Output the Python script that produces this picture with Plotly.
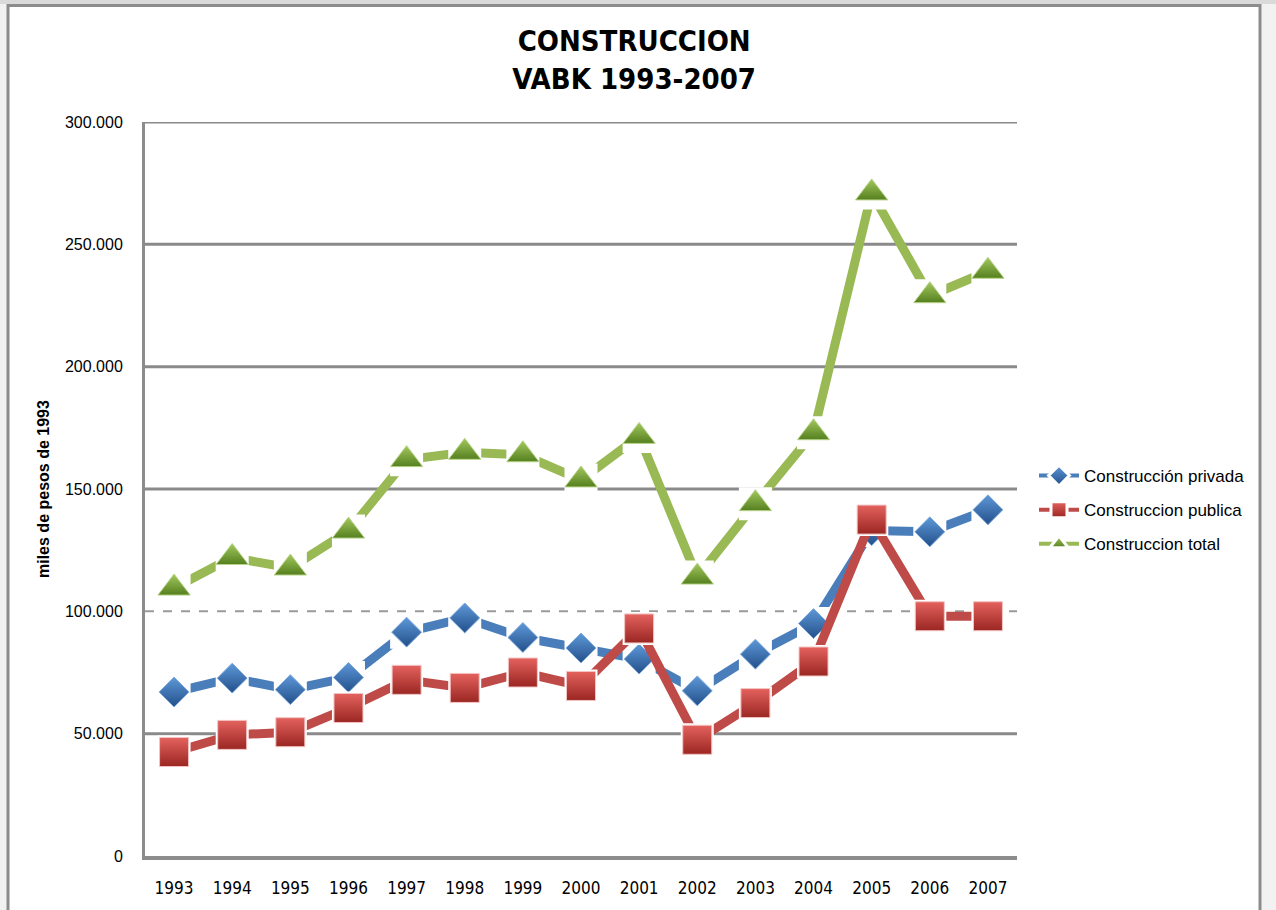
import plotly.graph_objects as go

years = ["1993", "1994", "1995", "1996", "1997", "1998", "1999", "2000",
         "2001", "2002", "2003", "2004", "2005", "2006", "2007"]
privada = [67000, 72700, 68000, 73000, 91500, 97300, 89300, 85000,
           80500, 67500, 82500, 95000, 133000, 132500, 141500]
publica = [42500, 49500, 50600, 60500, 72000, 68700, 75000, 69500,
           93000, 47500, 62500, 79500, 137500, 98000, 98000]
total = [109500, 122000, 117700, 132800, 162000, 165000, 164000, 153700,
         171500, 114000, 144000, 173000, 271000, 229000, 239000]

series_names = ["Construcción privada", "Construccion publica", "Construccion total"]
tick_vals = [0, 50000, 100000, 150000, 200000, 250000, 300000]
tick_text = ["0", "50.000", "100.000", "150.000", "200.000", "250.000", "300.000"]

NARROW = "Liberation Sans Narrow, Arial Narrow, DejaVu Sans Condensed, sans-serif"
SANS = "Liberation Sans, Arial, sans-serif"

styles = [
    dict(line="#4A7EBB", symbol="diamond", size=23, top="#5E98D8", bottom="#22508A", edge="#7FA9DD"),
    dict(line="#BE4B48", symbol="square", size=29, top="#E4625E", bottom="#9A2622", edge="#F2C4C3"),
    dict(line="#98B954", symbol="triangle-up", size=28, top="#A3C85E", bottom="#55801F", edge="#B9D48A"),
]

fig = go.Figure()
for name, vals, st in zip(series_names, [privada, publica, total], styles):
    fig.add_trace(go.Scatter(x=years, y=vals, mode="lines",
                             line=dict(color=st["line"], width=9),
                             showlegend=False, hoverinfo="skip"))
    fig.add_trace(go.Scatter(x=years, y=vals, mode="markers",
                             marker=dict(symbol="square", size=33, color="white",
                                         line=dict(width=0)),
                             showlegend=False, hoverinfo="skip"))
    fig.add_trace(go.Scatter(x=years, y=vals, mode="markers", name=name,
                             marker=dict(symbol=st["symbol"], size=st["size"], color=st["top"],
                                         gradient=dict(type="vertical", color=st["bottom"]),
                                         line=dict(width=1, color=st["edge"])),
                             showlegend=False))
    fig.add_trace(go.Scatter(x=[None], y=[None], mode="lines+markers", name=name,
                             legendgroup=name,
                             line=dict(color=st["line"], width=4),
                             marker=dict(symbol=st["symbol"], size=16, color=st["top"],
                                         gradient=dict(type="vertical", color=st["bottom"]),
                                         line=dict(width=3, color="white"))))

L, R, T, B = 145, 259, 122, 54
W, H = 1276, 910
pw, ph = W - L - R, H - T - B

def px_x(p):
    return (p - L) / pw

def px_y(p):
    return (H - B - p) / ph

shapes = [
    dict(type="rect", xref="paper", yref="paper", x0=px_x(-20), x1=px_x(W + 20),
         y0=px_y(4), y1=px_y(-20), fillcolor="#DADADA", line=dict(width=0), layer="below"),
    dict(type="rect", xref="paper", yref="paper", x0=px_x(8), x1=px_x(1260),
         y0=px_y(H + 20), y1=px_y(5.5), fillcolor="white",
         line=dict(color="#8C8C8C", width=3), layer="below"),
]
for v in tick_vals[1:]:
    if v == 100000:
        shapes.append(dict(type="line", xref="paper", yref="y", x0=0, x1=1, y0=v, y1=v,
                           line=dict(color="#9A9A9A", width=2, dash="dash"), layer="below"))
    else:
        shapes.append(dict(type="line", xref="paper", yref="y", x0=0, x1=1, y0=v, y1=v,
                           line=dict(color="#8A8A8A", width=3), layer="below"))

fig.update_layout(
    width=W, height=H,
    margin=dict(l=L, r=R, t=T, b=B, autoexpand=False),
    paper_bgcolor="#F2F2F2",
    plot_bgcolor="rgba(0,0,0,0)",
    title=dict(text="CONSTRUCCION<br>VABK 1993-2007", x=0.497, xref="container", xanchor="center",
               y=1 - 51 / H, yanchor="middle",
               font=dict(family=NARROW, size=29, color="black", weight="bold")),
    xaxis=dict(type="category", range=[-0.5, 14.5], showgrid=False, zeroline=False,
               showline=True, linecolor="#8C8C8C", linewidth=4, ticks="",
               ticklabelstandoff=14,
               tickfont=dict(family=NARROW, size=17, color="black")),
    yaxis=dict(range=[0, 300000], showgrid=False, zeroline=False,
               showline=True, linecolor="#8C8C8C", linewidth=3, ticks="",
               tickvals=tick_vals, ticktext=tick_text, ticklabelstandoff=16,
               tickfont=dict(family=SANS, size=16, color="black")),
    shapes=shapes,
    annotations=[dict(text="<b>miles de pesos de 1993</b>", textangle=-90, xref="paper", yref="paper",
                      x=px_x(43), y=0.5, xanchor="center", yanchor="middle", showarrow=False,
                      font=dict(family=SANS, size=16, color="black"))],
    legend=dict(x=px_x(1034), y=px_y(510), xanchor="left", yanchor="middle",
                bgcolor="rgba(0,0,0,0)", tracegroupgap=9, itemwidth=40,
                font=dict(family=SANS, size=17, color="black")),
    showlegend=True,
)

fig.write_html("out.html", config={"displayModeBar": False},
               post_script="document.body.style.margin='0px';")
